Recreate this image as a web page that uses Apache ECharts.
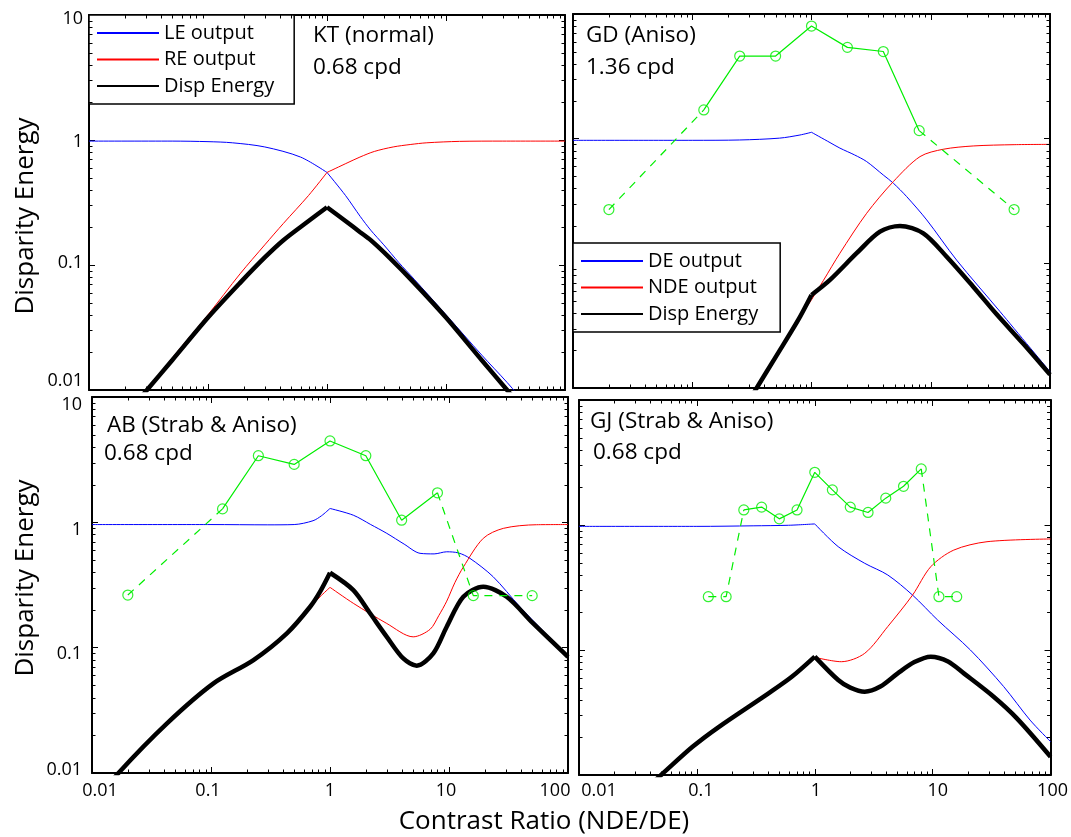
<!DOCTYPE html>
<html>
<head>
<meta charset="utf-8">
<script src="https://cdn.jsdelivr.net/npm/echarts@6/dist/echarts.min.js"></script>
<style>
  html, body { margin: 0; padding: 0; background: #fff; }
  #chart { width: 1071px; height: 837px; }
</style>
</head>
<body>
<div id="chart"></div>
<script>
// ---- tick labels (log decades) ----
const xTickLabels = ['0.01', '0.1', '1', '10', '100'];
const yTickLabels = ['0.01', '0.1', '1', '10'];
// minor log ticks inside each decade
const minorFactors = [2, 3, 4, 5, 6, 7, 8, 9];

// ---- panel captions ----
const panelNames = ['KT (normal)', 'GD (Aniso)', 'AB (Strab & Aniso)', 'GJ (Strab & Aniso)'];
const panelFreqs = ['0.68 cpd', '1.36 cpd', '0.68 cpd', '0.68 cpd'];

// ---- KT (normal), 0.68 cpd ----
const ktLeX = [0.01, 0.05, 0.1, 0.16, 0.3, 0.6, 1, 1.43, 1.9, 2.33, 3, 4, 5.4, 10, 20, 32.6, 50, 100];
const ktLeY = [0.98, 0.98, 0.97, 0.95, 0.88, 0.73, 0.55, 0.36, 0.245, 0.19, 0.145, 0.105, 0.077, 0.04, 0.019, 0.0115, 0.0072, 0.0035];
const ktReX = [0.01, 0.02, 0.0307, 0.05, 0.1, 0.186, 0.3, 0.43, 0.7, 1, 1.5, 1.89, 2.5, 3.6, 5, 6.9, 13, 30, 100];
const ktReY = [0.0028, 0.0063, 0.01, 0.018, 0.04, 0.085, 0.145, 0.215, 0.36, 0.55, 0.66, 0.73, 0.81, 0.88, 0.92, 0.95, 0.975, 0.98, 0.98];
const ktDispX = [0.01, 0.02, 0.0307, 0.05, 0.1, 0.186, 0.3, 0.43, 0.7, 1, 1.43, 1.9, 2.33, 3.33, 5.4, 10, 20, 32.6, 50, 100];
const ktDispY = [0.0027, 0.0062, 0.01, 0.0173, 0.038, 0.072, 0.115, 0.158, 0.225, 0.29, 0.225, 0.183, 0.158, 0.115, 0.072, 0.038, 0.0173, 0.01, 0.0062, 0.0027];

// ---- GD (Aniso), 1.36 cpd ----
const gdDeX = [0.01, 0.1, 0.25, 0.54, 0.8, 1, 1.43, 1.73, 2.3, 2.9, 4.0, 4.85, 6.28, 9.25, 16.5, 38.1, 100];
const gdDeY = [0.97, 0.97, 0.976, 1.01, 1.07, 1.125, 0.93, 0.84, 0.74, 0.655, 0.511, 0.44, 0.343, 0.223, 0.106, 0.041, 0.0135];
const gdNdeX = [0.2, 0.347, 0.5, 0.774, 1, 1.26, 1.73, 2.9, 4.85, 8.13, 12.7, 22.7, 50, 100];
const gdNdeY = [0.0042, 0.01, 0.0177, 0.0352, 0.051, 0.073, 0.1205, 0.252, 0.452, 0.718, 0.822, 0.874, 0.895, 0.9];
const gdDispX = [0.2, 0.347, 0.5, 0.774, 1, 1.43, 2.39, 3.75, 5.52, 8.67, 13.6, 22.7, 35.7, 60, 100];
const gdDispY = [0.0042, 0.01, 0.0177, 0.0352, 0.0558, 0.0736, 0.1205, 0.1795, 0.1995, 0.174, 0.113, 0.065, 0.039, 0.0225, 0.0128];
const gdObsX = [0.02, 0.125, 0.25, 0.5, 1, 2, 4, 8, 50];
const gdObsY = [0.27, 1.7, 4.6, 4.6, 8.0, 5.4, 5.0, 1.16, 0.27];

// ---- AB (Strab & Aniso), 0.68 cpd ----
const abDeX = [0.01, 0.1, 0.3, 0.5, 0.72, 0.85, 1, 1.57, 2.2, 3.0, 4.2, 5.71, 7.5, 9.57, 12, 15, 23.5, 39.4, 60, 100];
const abDeY = [0.96, 0.96, 0.955, 0.96, 1.03, 1.13, 1.29, 1.14, 0.96, 0.817, 0.67, 0.566, 0.56, 0.582, 0.57, 0.516, 0.368, 0.212, 0.14, 0.087];
const abNdeX = [0.01, 0.0167, 0.0427, 0.105, 0.2275, 0.434, 0.681, 0.826, 1, 1.57, 3.0, 5.0, 6.93, 8.2, 9.57, 11.2, 13.2, 19.4, 28.6, 54.5, 100];
const abNdeY = [0.0055, 0.01, 0.0249, 0.0519, 0.0796, 0.13, 0.21, 0.255, 0.303, 0.226, 0.156, 0.122, 0.14, 0.18, 0.235, 0.33, 0.44, 0.745, 0.895, 0.957, 0.96];
const abDispX = [0.01, 0.0167, 0.0427, 0.105, 0.2275, 0.434, 0.681, 0.826, 1, 1.57, 2.17, 3.0, 4.13, 5.36, 7.38, 9.57, 13.2, 19.4, 30.5, 51, 100];
const abDispY = [0.0055, 0.01, 0.0249, 0.0519, 0.0796, 0.13, 0.212, 0.28, 0.396, 0.288, 0.188, 0.122, 0.082, 0.0718, 0.09, 0.147, 0.255, 0.306, 0.255, 0.156, 0.0845];
const abObsX = [0.02, 0.125, 0.25, 0.5, 1, 2, 4, 8, 16, 50];
const abObsY = [0.263, 1.28, 3.4, 2.9, 4.46, 3.4, 1.04, 1.72, 0.26, 0.26];

// ---- GJ (Strab & Aniso), 0.68 cpd ----
const gjDeX = [0.01, 0.1, 0.3, 0.6, 1, 1.58, 2.65, 4.16, 6.75, 11, 20.9, 40, 67, 100];
const gjDeY = [0.975, 0.975, 0.985, 0.995, 1.02, 0.671, 0.494, 0.398, 0.275, 0.174, 0.1, 0.051, 0.0275, 0.0185];
const gjNdeX = [0.01, 0.0497, 0.0918, 0.154, 0.405, 0.638, 1, 1.68, 2.65, 4.16, 6.75, 9.64, 15.1, 28.9, 100];
const gjNdeY = [0.0026, 0.01, 0.0168, 0.0243, 0.045, 0.061, 0.0874, 0.0806, 0.094, 0.154, 0.275, 0.464, 0.63, 0.735, 0.773];
const gjDispX = [0.01, 0.0497, 0.0918, 0.154, 0.405, 0.638, 1, 1.58, 2.0, 2.65, 3.6, 5.05, 7.0, 9.64, 13.5, 18.4, 32.9, 51.8, 100];
const gjDispY = [0.0026, 0.01, 0.0168, 0.0243, 0.045, 0.061, 0.0885, 0.0575, 0.05, 0.0464, 0.051, 0.065, 0.08, 0.0885, 0.081, 0.065, 0.0423, 0.0284, 0.014];
const gjObsX = [0.125, 0.177, 0.25, 0.354, 0.5, 0.707, 1, 1.41, 2, 2.83, 4, 5.66, 8, 11.3, 16];
const gjObsY = [0.267, 0.267, 1.32, 1.39, 1.12, 1.32, 2.64, 1.91, 1.39, 1.26, 1.64, 2.04, 2.81, 0.267, 0.267];

// ---- styling ----
const FONT = 'Open Sans';
const BLUE = '#0000ff', RED = '#ff0000', BLACK = '#000000', GREEN = '#00ee00';

const grids = [
  { left: 89, top: 15, width: 476, height: 375 },
  { left: 573, top: 14, width: 477, height: 374 },
  { left: 92, top: 397, width: 476, height: 376 },
  { left: 579, top: 400, width: 475, height: 375 }
];

// per-label nudges (px) for tick labels that sit off their tick
const yLabelNudge = [{ '10': 4, '1': 2, '0.1': -2, '0.01': -9 }, null, { '10': 8, '1': 8, '0.1': 6, '0.01': -3 }, null];
const yLabelMargin = [6, 0, 10, 0];
const xLabelNudge = [null, null, { '0.01': 8, '0.1': -3, '1': 0, '10': -3, '100': -13 }, { '0.01': 20, '0.1': 4, '1': 1, '10': 5, '100': 2 }];
const xLabelMargin = [0, 0, 9, 7];

const zip = (xs, ys) => xs.map((x, i) => [x, ys[i]]);

function labelSpec(labels, minExp, nudge, horizontal, margin) {
  const rich = {};
  labels.forEach((t, k) => {
    const d = nudge[t] || 0;
    rich['l' + k] = horizontal
      ? { padding: d >= 0 ? [0, 0, 0, 2 * d] : [0, -2 * d, 0, 0] }
      : { padding: d >= 0 ? [2 * d, 0, 0, 0] : [0, 0, -2 * d, 0] };
  });
  return {
    show: true, margin: margin, fontSize: 18, fontFamily: FONT, color: '#000',
    formatter: (v) => {
      const k = Math.round(Math.log10(v)) - minExp;
      return '{l' + k + '|' + labels[k] + '}';
    },
    rich: rich
  };
}

function axisBase(g, min, max) {
  return {
    type: 'log', logBase: 10, gridIndex: g, min: min, max: max,
    splitLine: { show: false },
    axisLine: { show: true, onZero: false, lineStyle: { color: '#000', width: 2 } },
    axisTick: { show: true, inside: true, length: 6, lineStyle: { color: '#000', width: 1 } },
    minorTick: { show: false },
    minorSplitLine: { show: false }
  };
}

const xAxes = [], yAxes = [];
grids.forEach((gr, g) => {
  xAxes.push(Object.assign(axisBase(g, 0.01, 100), {
    position: 'bottom',
    axisLabel: xLabelNudge[g] ? labelSpec(xTickLabels, -2, xLabelNudge[g], true, xLabelMargin[g]) : { show: false }
  }));
  xAxes.push(Object.assign(axisBase(g, 0.01, 100), { position: 'top', axisLabel: { show: false } }));
  yAxes.push(Object.assign(axisBase(g, 0.01, 10), {
    position: 'left',
    axisLabel: yLabelNudge[g] ? labelSpec(yTickLabels, -2, yLabelNudge[g], false, yLabelMargin[g]) : { show: false }
  }));
  yAxes.push(Object.assign(axisBase(g, 0.01, 10), { position: 'right', axisLabel: { show: false } }));
});

const series = [];

// minor log ticks on all four sides of a panel, placed through the panel's own log axes
function minorTicks(g) {
  const data = [];
  [0.01, 0.1, 1, 10].forEach((dec) => minorFactors.forEach((f) => data.push([dec * f, 1, 0])));
  [0.01, 0.1, 1].forEach((dec) => minorFactors.forEach((f) => data.push([1, dec * f, 1])));
  series.push({
    type: 'custom', xAxisIndex: 2 * g, yAxisIndex: 2 * g, silent: true, z: 6,
    data: data,
    renderItem: (params, api) => {
      const r = params.coordSys;
      const p = api.coord([api.value(0), api.value(1)]);
      const st = { stroke: '#000', lineWidth: 1 };
      const L = 3.5;
      if (api.value(2) === 0) {
        const x = Math.round(p[0]) + 0.5;
        return { type: 'group', children: [
          { type: 'line', shape: { x1: x, y1: r.y + r.height, x2: x, y2: r.y + r.height - L }, style: st },
          { type: 'line', shape: { x1: x, y1: r.y, x2: x, y2: r.y + L }, style: st }
        ] };
      }
      const y = Math.round(p[1]) + 0.5;
      return { type: 'group', children: [
        { type: 'line', shape: { x1: r.x, y1: y, x2: r.x + L, y2: y }, style: st },
        { type: 'line', shape: { x1: r.x + r.width, y1: y, x2: r.x + r.width - L, y2: y }, style: st }
      ] };
    }
  });
}

// model curve, drawn in two pieces so the corner at a contrast ratio of 1 stays sharp
function curve(name, g, xs, ys, color, width) {
  const k = xs.indexOf(1);
  const parts = [zip(xs.slice(0, k + 1), ys.slice(0, k + 1)), zip(xs.slice(k), ys.slice(k))];
  parts.forEach((d) => {
    series.push({
      type: 'line', name: name, xAxisIndex: 2 * g, yAxisIndex: 2 * g,
      data: d, symbol: 'none', smooth: 0.3, clip: true,
      lineStyle: { color: color, width: width }, itemStyle: { color: color },
      emphasis: { disabled: true }, z: width > 2 ? 3 : 2
    });
  });
}

// measured points: solid between i0 and i1, dashed outside
function observed(name, g, xs, ys, i0, i1) {
  const pts = zip(xs, ys);
  const seg = (d, dashed) => series.push({
    type: 'line', name: name, xAxisIndex: 2 * g, yAxisIndex: 2 * g,
    data: d, symbol: 'none', clip: true,
    lineStyle: { color: GREEN, width: 1.2, type: dashed ? [8, 7] : 'solid' },
    emphasis: { disabled: true }, z: 4
  });
  seg(pts.slice(0, i0 + 1), true);
  seg(pts.slice(i0, i1 + 1), false);
  seg(pts.slice(i1), true);
  series.push({
    type: 'scatter', name: name, xAxisIndex: 2 * g, yAxisIndex: 2 * g,
    data: pts, symbol: 'circle', symbolSize: 10,
    itemStyle: { color: 'rgba(0,0,0,0)', borderColor: GREEN, borderWidth: 1.2 },
    emphasis: { disabled: true }, z: 5
  });
}

curve('LE output', 0, ktLeX, ktLeY, BLUE, 1);
curve('RE output', 0, ktReX, ktReY, RED, 1);
curve('Disp Energy', 0, ktDispX, ktDispY, BLACK, 4.5);

curve('DE output', 1, gdDeX, gdDeY, BLUE, 1);
curve('NDE output', 1, gdNdeX, gdNdeY, RED, 1);
curve('Disp Energy', 1, gdDispX, gdDispY, BLACK, 4.5);
observed('GD', 1, gdObsX, gdObsY, 1, 7);

curve('DE output', 2, abDeX, abDeY, BLUE, 1);
curve('NDE output', 2, abNdeX, abNdeY, RED, 1);
curve('Disp Energy', 2, abDispX, abDispY, BLACK, 4.5);
observed('AB', 2, abObsX, abObsY, 1, 7);

curve('DE output', 3, gjDeX, gjDeY, BLUE, 1);
curve('NDE output', 3, gjNdeX, gjNdeY, RED, 1);
curve('Disp Energy', 3, gjDispX, gjDispY, BLACK, 4.5);
observed('GJ', 3, gjObsX, gjObsY, 2, 12);

grids.forEach((gr, g) => minorTicks(g));

function legendBox(names, left, top, padRight) {
  return {
    data: names, left: left, top: top, orient: 'vertical',
    itemWidth: 62, itemHeight: 14, itemGap: 6.5,
    padding: [8, padRight, 8, 7],
    borderColor: '#000', borderWidth: 1.5, borderRadius: 0, backgroundColor: '#fff',
    selectedMode: false,
    itemStyle: { opacity: 0 },
    textStyle: { fontSize: 20, fontFamily: FONT, color: '#000', lineHeight: 20 }
  };
}

const captionPos = [
  [[313, 36], [313, 68]],
  [[586, 36], [586, 68]],
  [[107, 426], [104, 454]],
  [[590, 422], [593, 453]]
];
const graphic = [];
captionPos.forEach((p, g) => {
  [panelNames[g], panelFreqs[g]].forEach((t, j) => {
    graphic.push({
      type: 'text', x: p[j][0], y: p[j][1], silent: true,
      style: { text: t, fontSize: 22.5, fontFamily: FONT, fill: '#000', textAlign: 'left', textVerticalAlign: 'middle' }
    });
  });
});
graphic.push({
  type: 'text', x: 544, y: 822, silent: true,
  style: { text: 'Contrast Ratio (NDE/DE)', fontSize: 26, fontFamily: FONT, fill: '#000', textAlign: 'center', textVerticalAlign: 'middle' }
});
[216, 578].forEach((cy) => {
  graphic.push({
    type: 'text', x: 26, y: cy, rotation: Math.PI / 2, silent: true,
    style: { text: 'Disparity Energy', fontSize: 26, fontFamily: FONT, fill: '#000', textAlign: 'center', textVerticalAlign: 'middle' }
  });
});

const chart = echarts.init(document.getElementById('chart'), null, { renderer: 'canvas' });
chart.setOption({
  animation: false,
  backgroundColor: '#fff',
  grid: grids,
  xAxis: xAxes,
  yAxis: yAxes,
  legend: [
    legendBox(['LE output', 'RE output', 'Disp Energy'], 89, 15, 20),
    legendBox(['DE output', 'NDE output', 'Disp Energy'], 573, 243, 22)
  ],
  tooltip: { show: false },
  graphic: graphic,
  series: series
});
</script>
</body>
</html>
